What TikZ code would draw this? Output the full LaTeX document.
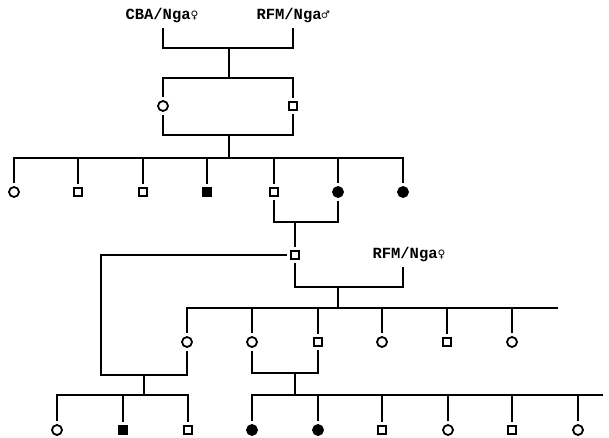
\documentclass[tikz,border=0pt]{standalone}
\usepackage{fontspec}
\newfontfamily\labfont{Liberation Mono}
\newfontfamily\symfont{DejaVu Sans Mono}
\begin{document}
\begin{tikzpicture}[x=1pt,y=-1pt,line width=2.2pt,
  fem/.style={circle,draw,minimum size=10pt,inner sep=0pt,line width=1.8pt,outer sep=4pt},
  femA/.style={fem,fill=black},
  mal/.style={rectangle,draw,minimum size=8.5pt,inner sep=0pt,line width=1.8pt,outer sep=4pt},
  malA/.style={mal,fill=black},
  lab/.style={font=\fontsize{15.5}{15.5}\labfont\bfseries,inner sep=0pt,outer sep=5pt}]
\useasboundingbox (0,0) rectangle (609,438);
% generation 0
\node[lab] (cba) at (162,16) {CBA/Nga{\symfont\fontsize{13}{13}\selectfont ♀}};
\node[lab] (rfmA) at (293,16) {RFM/Nga{\symfont\fontsize{13}{13}\selectfont ♂}};
\coordinate (m1) at (229,48);
\coordinate (s1) at (229,78);
\draw (cba.south -| 163,0) |- (m1) -| (rfmA.south);
\draw (m1) -- (s1);
% generation 1
\node[fem] (f1) at (163,106) {};
\node[mal] (q1) at (293,106) {};
\draw (f1.north) |- (s1) -| (q1.north);
\coordinate (m2) at (229,135);
\coordinate (s2) at (229,158);
\draw (f1.south) |- (m2) -| (q1.south);
\draw (m2) -- (s2);
% generation 2
\node[fem]  (c1) at (14,192) {};
\node[mal]  (c2) at (78,192) {};
\node[mal]  (c3) at (143,192) {};
\node[malA] (c4) at (207,192) {};
\node[mal]  (c5) at (274,192) {};
\node[femA] (c6) at (338,192) {};
\node[femA] (c7) at (403,192) {};
\draw (c1.north) |- (s2) -| (c7.north);
\foreach \c in {c2,c3,c4,c5,c6} \draw (\c.north) -- (\c.north |- s2);
\coordinate (m3) at (295,222);
\draw (c5.south) |- (m3) -| (c6.south);
% generation 3
\node[mal] (g) at (295,255) {};
\draw (m3) -- (g.north);
\node[lab] (rfmB) at (409,255) {RFM/Nga{\symfont\fontsize{13}{13}\selectfont ♀}};
\coordinate (r2) at (403,267);
\coordinate (m4) at (338,287);
\coordinate (s4) at (338,308);
\draw (g.south) |- (m4) -| (r2);
\draw (m4) -- (s4);
\coordinate (e4) at (558,308);
\node[fem] (h1) at (187,342) {};
\node[fem] (h2) at (252,342) {};
\node[mal] (h3) at (318,342) {};
\node[fem] (h4) at (382,342) {};
\node[mal] (h5) at (447,342) {};
\node[fem] (h6) at (512,342) {};
\draw (h1.north) |- (s4) -- (e4);
\foreach \c in {h2,h3,h4,h5,h6} \draw (\c.north) -- (\c.north |- s4);
% left family
\coordinate (cL) at (101,375);
\coordinate (m5) at (144,375);
\coordinate (s5) at (144,395);
\draw (g.west) -| (cL) -| (h1.south);
\draw (m5) -- (s5);
\node[fem]  (j1) at (57,430) {};
\node[malA] (j2) at (123,430) {};
\node[mal]  (j3) at (188,430) {};
\draw (j1.north) |- (s5) -| (j3.north);
\draw (j2.north) -- (j2.north |- s5);
% right family
\coordinate (m6) at (295,373);
\coordinate (s6) at (295,395);
\coordinate (e6) at (603,395);
\draw (h2.south) |- (m6) -| (h3.south);
\draw (m6) -- (s6);
\node[femA] (k1) at (252,430) {};
\node[femA] (k2) at (318,430) {};
\node[mal]  (k3) at (382,430) {};
\node[fem]  (k4) at (448,430) {};
\node[mal]  (k5) at (512,430) {};
\node[fem]  (k6) at (578,430) {};
\draw (k1.north) |- (s6) -- (e6);
\foreach \c in {k2,k3,k4,k5,k6} \draw (\c.north) -- (\c.north |- s6);
\end{tikzpicture}
\end{document}
